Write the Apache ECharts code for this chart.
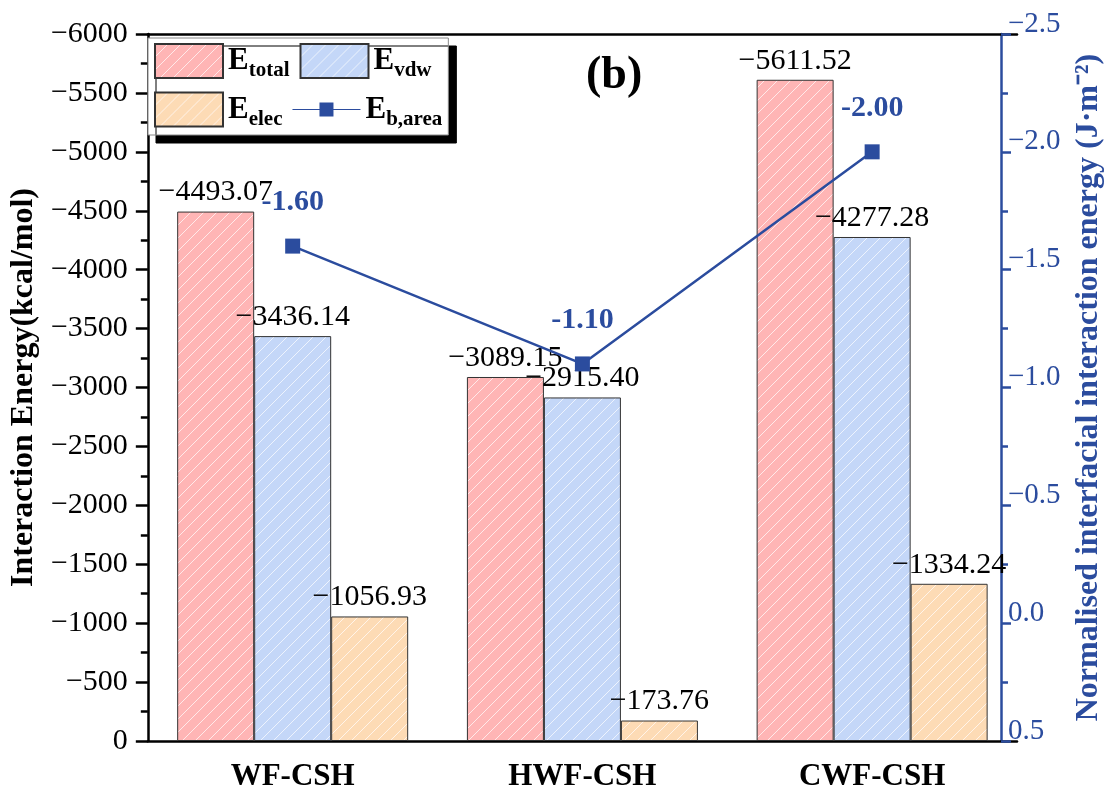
<!DOCTYPE html>
<html>
<head>
<meta charset="utf-8">
<script src="https://cdn.jsdelivr.net/npm/echarts@6/dist/echarts.min.js"></script>
<style>html,body{margin:0;padding:0;background:#fff}#c{width:1113px;height:794px}</style>
</head>
<body>
<div id="c"></div>
<script>
const categories = ['WF-CSH', 'HWF-CSH', 'CWF-CSH'];
const eTotal = [-4493.07, -3089.15, -5611.52];
const eVdw = [-3436.14, -2915.40, -4277.28];
const eElec = [-1056.93, -173.76, -1334.24];
const eBArea = [-1.60, -1.10, -2.00];
const leftTicks = { min: -6000, max: 0, interval: 500 };
const rightTicks = { min: -2.5, max: 0.5, interval: 0.5 };

const FONT = '"Liberation Serif", "Times New Roman", serif';
const BLUE = '#2B4C9E';

function hatch(bg) {
  const s = 13;
  const c = document.createElement('canvas');
  c.width = s; c.height = s;
  const g = c.getContext('2d');
  g.fillStyle = bg; g.fillRect(0, 0, s, s);
  g.strokeStyle = 'rgba(255,255,255,0.7)';
  g.lineWidth = 1;
  g.beginPath();
  g.moveTo(-1, s + 1); g.lineTo(s + 1, -1);
  g.moveTo(-1, 1); g.lineTo(1, -1);
  g.moveTo(s - 1, s + 1); g.lineTo(s + 1, s - 1);
  g.stroke();
  return { image: c, repeat: 'repeat' };
}

const minus = v => (v < 0 ? '\u2212' : '') + Math.abs(v);
const barLabel = {
  show: true, position: 'top', distance: 4,
  fontFamily: FONT, fontSize: 30, color: '#000',
  formatter: p => '\u2212' + Math.abs(p.value).toFixed(2)
};

const chart = echarts.init(document.getElementById('c'), null, { renderer: 'canvas' });
const legendRich = {
  E: { fontFamily: FONT, fontSize: 31, fontWeight: 'bold', color: '#000', lineHeight: 31, verticalAlign: 'top' },
  s: { fontFamily: FONT, fontSize: 21, fontWeight: 'bold', color: '#000', lineHeight: 21, padding: [15, 0, 0, 0], verticalAlign: 'top' }
};
const legendNames = { 'Etotal': 'total', 'Evdw': 'vdw', 'Eelec': 'elec', 'Eb,area': 'b,area' };
const lineIcon = 'path://M0,6.5L27,6.5L27,0L41,0L41,6.5L68,6.5L68,7.5L41,7.5L41,14L27,14L27,7.5L0,7.5Z';

chart.setOption({
  animation: false,
  backgroundColor: '#fff',
  grid: { left: 144, right: 94, top: 34, bottom: 53 },
  legend: {
    left: 148, top: 38, width: 290,
    orient: 'horizontal',
    itemWidth: 68, itemHeight: 34, itemGap: 10,
    padding: [5, 6, 5, 6],
    backgroundColor: '#fff', borderColor: '#888', borderWidth: 1, borderRadius: 0,
    shadowColor: '#000', shadowBlur: 0.01, shadowOffsetX: 8, shadowOffsetY: 8,
    data: [
      { name: 'Etotal', icon: 'rect' },
      { name: 'Evdw', icon: 'rect' },
      { name: 'Eelec', icon: 'rect' },
      { name: 'Eb,area', icon: lineIcon }
    ],
    formatter: n => '{E|E}{s|' + legendNames[n] + '}',
    textStyle: { width: 62, rich: legendRich, padding: [0, 0, 0, 0] }
  },
  graphic: [{
    type: 'text', left: 586, top: 53,
    style: { text: '(b)', font: 'bold 46px ' + FONT, fill: '#000' }
  }],
  xAxis: [
    {
      type: 'category', data: categories, position: 'bottom',
      axisLine: { lineStyle: { color: '#000', width: 2.5 } },
      axisTick: { alignWithLabel: true, length: 8, lineStyle: { color: '#000', width: 2.5 } },
      axisLabel: { fontFamily: FONT, fontSize: 31, fontWeight: 'bold', color: '#000', margin: 20 },
      splitLine: { show: false }
    },
    {
      type: 'category', data: categories, position: 'bottom',
      axisLine: { show: false },
      axisTick: { length: 8, lineStyle: { color: '#000', width: 2.5 } },
      axisLabel: { show: false }, splitLine: { show: false }
    },
    {
      type: 'category', data: categories, position: 'top',
      axisLine: { lineStyle: { color: '#000', width: 2.5 } },
      axisTick: { show: false }, axisLabel: { show: false }, splitLine: { show: false }
    }
  ],
  yAxis: [
    {
      type: 'value', position: 'left', inverse: true,
      min: leftTicks.min, max: leftTicks.max, interval: leftTicks.interval,
      name: 'Interaction Energy(kcal/mol)', nameLocation: 'middle', nameGap: 95,
      nameTextStyle: { fontFamily: FONT, fontSize: 32, fontWeight: 'bold', color: '#000' },
      axisLine: { show: true, lineStyle: { color: '#000', width: 2.5 } },
      axisTick: { show: true, length: 12, lineStyle: { color: '#000', width: 2.5 } },
      minorTick: { show: true, splitNumber: 2, length: 7, lineStyle: { color: '#000', width: 2.5 } },
      axisLabel: { fontFamily: FONT, fontSize: 30, color: '#000', margin: 20, formatter: v => minus(v) },
      splitLine: { show: false }
    },
    {
      type: 'value', position: 'right', inverse: true, offset: -16,
      min: rightTicks.min, max: rightTicks.max, interval: rightTicks.interval,
      name: 'Normalised interfacial interaction energy (J\u00B7m\u207B\u00B2)', nameLocation: 'middle', nameGap: 72,
      nameRotate: 90,
      nameTextStyle: { fontFamily: FONT, fontSize: 32, fontWeight: 'bold', color: BLUE },
      axisLine: { show: true, lineStyle: { color: BLUE, width: 2.5 } },
      axisTick: { show: true, length: 10, lineStyle: { color: BLUE, width: 2.5 } },
      minorTick: { show: true, splitNumber: 2, length: 7, lineStyle: { color: BLUE, width: 2.5 } },
      axisLabel: {
        fontFamily: FONT, fontSize: 29, color: BLUE, margin: 7,
        verticalAlign: 'bottom', lineHeight: 20,
        formatter: v => (v < 0 ? '\u2212' : '') + Math.abs(v).toFixed(1)
      },
      splitLine: { show: false }
    }
  ],
  series: [
    {
      name: 'Etotal', type: 'bar', data: eTotal, barWidth: 77, barGap: '0%',
      itemStyle: { color: hatch('#FFB5B5'), borderColor: '#333', borderWidth: 1 },
      label: barLabel
    },
    {
      name: 'Evdw', type: 'bar', data: eVdw, barWidth: 77, barGap: '0%',
      itemStyle: { color: hatch('#C4D7F8'), borderColor: '#333', borderWidth: 1 },
      label: barLabel
    },
    {
      name: 'Eelec', type: 'bar', data: eElec, barWidth: 77, barGap: '0%',
      itemStyle: { color: hatch('#FDDBB5'), borderColor: '#333', borderWidth: 1 },
      label: barLabel
    },
    {
      name: 'Eb,area', type: 'line', yAxisIndex: 1, data: eBArea,
      symbol: 'rect', symbolSize: 15,
      lineStyle: { color: BLUE, width: 2.5 },
      itemStyle: { color: BLUE },
      label: {
        show: true, position: 'top', distance: 21,
        fontFamily: FONT, fontSize: 30, fontWeight: 'bold', color: BLUE,
        formatter: p => p.value.toFixed(2)
      },
      z: 5
    }
  ]
});
</script>
</body>
</html>
